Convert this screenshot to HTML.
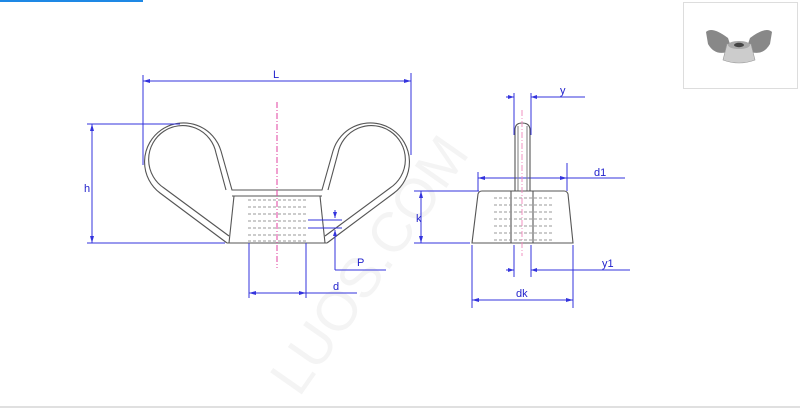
<!DOCTYPE html>
<html><head><meta charset="utf-8"><style>
html,body{margin:0;padding:0;background:#fff;width:800px;height:409px;overflow:hidden}
svg{display:block}
text{font-family:"Liberation Sans",sans-serif;font-size:11px;fill:#2222cc}
</style></head><body>
<svg width="800" height="409" viewBox="0 0 800 409">
<rect x="0" y="0" width="143" height="2" fill="#1e88e5"/>
<rect x="0" y="406" width="800" height="2" fill="#e0e0e0"/>
<rect x="683.5" y="2.5" width="114" height="86" fill="#fff" stroke="#ddd"/>
<g>
<path d="M706 32 Q712 26 728 38 L732 50 Q716 58 708 44 Z" fill="#888"/>
<path d="M772 32 Q766 26 750 38 L746 50 Q762 58 770 44 Z" fill="#888"/>
<path d="M727 44 L751 44 L755 60 Q739 66 723 60 Z" fill="#ccc" stroke="#999" stroke-width="0.6"/>
<ellipse cx="739" cy="45" rx="11" ry="4" fill="#aaa"/><ellipse cx="739" cy="45" rx="5" ry="2.2" fill="#444"/>
</g>
<text x="170" y="330" transform="rotate(-55 300 240)" style="font-size:56px;fill:#f4f4f4">LUOS.COM</text>
<!-- left view -->
<g fill="none" stroke="#555" stroke-width="1.1">
<path d="M227 243 L160 193 A39 39 0 1 1 221 151 L232 190 L322 190 L333 151 A39 39 0 1 1 394 193 L327 243"/>
<path d="M229 236 L164 188 A34 34 0 1 1 216 153 L226 190"/>
<path d="M328 190 L338 153 A34 34 0 1 1 390 188 L325 236"/>
<line x1="227" y1="243" x2="327" y2="243"/>
<line x1="232" y1="196" x2="322" y2="196"/>
<line x1="234" y1="196" x2="229" y2="243"/>
<line x1="320" y1="196" x2="325" y2="243"/>
</g>
<g stroke="#999" stroke-width="1" stroke-dasharray="3 2">
<line x1="248" y1="200" x2="306" y2="200"/><line x1="248" y1="207" x2="306" y2="207"/>
<line x1="248" y1="214" x2="306" y2="214"/><line x1="248" y1="221" x2="306" y2="221"/>
<line x1="248" y1="228" x2="306" y2="228"/><line x1="248" y1="235" x2="306" y2="235"/>
<line x1="248" y1="241" x2="306" y2="241"/>
</g>
<line x1="277" y1="102" x2="277" y2="268" stroke="#e040a0" stroke-dasharray="6 2 1 2"/>
<g stroke="#3333dd" stroke-width="1" fill="none">
<line x1="143" y1="75" x2="143" y2="165"/><line x1="411" y1="73" x2="411" y2="155"/>
<line x1="143" y1="81" x2="411" y2="81"/>
<line x1="87" y1="124" x2="180" y2="124"/><line x1="87" y1="243" x2="225" y2="243"/>
<line x1="92" y1="124" x2="92" y2="243"/>
<line x1="249" y1="243" x2="249" y2="298"/><line x1="306" y1="243" x2="306" y2="298"/>
<line x1="249" y1="293" x2="357" y2="293"/>
<line x1="308" y1="220" x2="342" y2="220"/><line x1="308" y1="228" x2="342" y2="228"/>
<line x1="335" y1="210" x2="335" y2="218"/>
<line x1="335" y1="230" x2="335" y2="270"/><line x1="335" y1="270" x2="386" y2="270"/>
<line x1="514" y1="93" x2="514" y2="135"/><line x1="531" y1="93" x2="531" y2="135"/>
<line x1="506" y1="97" x2="514" y2="97"/><line x1="531" y1="97" x2="585" y2="97"/>
<line x1="478" y1="172" x2="478" y2="191"/><line x1="567" y1="163" x2="567" y2="191"/>
<line x1="478" y1="178" x2="625" y2="178"/>
<line x1="414" y1="191" x2="479" y2="191"/><line x1="414" y1="243" x2="470" y2="243"/>
<line x1="421" y1="191" x2="421" y2="243"/>
<line x1="514" y1="245" x2="514" y2="277"/><line x1="531" y1="245" x2="531" y2="277"/>
<line x1="506" y1="270" x2="514" y2="270"/><line x1="531" y1="270" x2="630" y2="270"/>
<line x1="472" y1="245" x2="472" y2="308"/><line x1="573" y1="245" x2="573" y2="308"/>
<line x1="472" y1="300" x2="573" y2="300"/>
</g>
<g fill="#3333dd">
<path d="M143 81 l7 -2 v4 z"/><path d="M411 81 l-7 -2 v4 z"/>
<path d="M92 124 l-2 7 h4 z"/><path d="M92 243 l-2 -7 h4 z"/>
<path d="M249 293 l7 -2 v4 z"/><path d="M306 293 l-7 -2 v4 z"/>
<path d="M514 97 l-6 -2 v4 z"/><path d="M531 97 l6 -2 v4 z"/>
<path d="M478 178 l7 -2 v4 z"/><path d="M567 178 l-7 -2 v4 z"/>
<path d="M421 191 l-2 7 h4 z"/><path d="M421 243 l-2 -7 h4 z"/>
<path d="M514 270 l-6 -2 v4 z"/><path d="M531 270 l6 -2 v4 z"/>
<path d="M472 300 l7 -2 v4 z"/><path d="M573 300 l-7 -2 v4 z"/>
<path d="M335 218 l-2 -6 h4 z"/><path d="M335 230 l-2 6 h4 z"/>
</g>
<g fill="none" stroke="#555" stroke-width="1.1">
<path d="M515 191 L515 130 Q515 123 522 123 Q530 123 530 130 L530 191"/>
<line x1="518" y1="126" x2="518" y2="191" stroke="#888"/><line x1="527" y1="126" x2="527" y2="191" stroke="#888"/>
<path d="M472 243 L478 194 Q479 191 482 191 L564 191 Q567 191 568 194 L573 243 Z"/>
<line x1="511" y1="191" x2="511" y2="243"/><line x1="533" y1="191" x2="533" y2="243"/>
</g>
<g stroke="#999" stroke-width="1" stroke-dasharray="3 2">
<line x1="494" y1="198" x2="552" y2="198"/><line x1="494" y1="205" x2="552" y2="205"/>
<line x1="494" y1="212" x2="552" y2="212"/><line x1="494" y1="219" x2="552" y2="219"/>
<line x1="494" y1="226" x2="552" y2="226"/><line x1="494" y1="233" x2="552" y2="233"/>
<line x1="494" y1="240" x2="552" y2="240"/>
</g>
<line x1="522" y1="110" x2="522" y2="256" stroke="#f090c0" stroke-dasharray="6 2 1 2"/>
<text x="273" y="78">L</text><text x="84" y="192">h</text>
<text x="333" y="290">d</text><text x="357" y="266">P</text>
<text x="560" y="94">y</text><text x="594" y="176">d1</text>
<text x="416" y="222">k</text><text x="602" y="267">y1</text>
<text x="516" y="297">dk</text>
</svg>
</body></html>
